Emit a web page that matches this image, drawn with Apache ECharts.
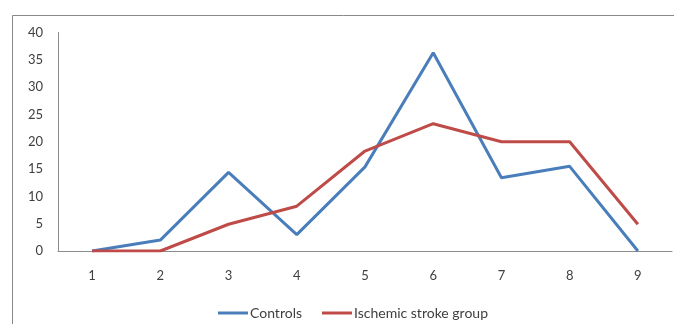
<!DOCTYPE html>
<html><head><meta charset="utf-8">
<script src="https://cdn.jsdelivr.net/npm/echarts@6/dist/echarts.min.js"></script>
<style>html,body{margin:0;padding:0;background:#fff}#c{width:674px;height:324px}</style>
</head><body><div id="c"></div>
<script>
const categories = ['1','2','3','4','5','6','7','8','9'];
const controls = [0, 2.0, 14.4, 3.0, 15.4, 36.3, 13.4, 15.5, 0];
const ischemic = [0, 0, 4.9, 8.2, 18.3, 23.3, 20.0, 20.0, 4.9];
const seriesNames = ['Controls', 'Ischemic stroke group'];

const chart = echarts.init(document.getElementById('c'));
const font = 'Lato, "Open Sans", sans-serif';
chart.setOption({
  animation: false,
  textStyle: {fontFamily: font},
  graphic: [{type: 'rect', shape: {x: 12.5, y: 15.5, width: 800, height: 500}, style: {fill: 'none', stroke: '#888', lineWidth: 1}, silent: true}],
  grid: {left: 58, right: 2, top: 32.5, bottom: 73},
  legend: {
    left: 213, top: 301, icon: 'rect', itemWidth: 30, itemHeight: 3, itemGap: 20,
    textStyle: {fontFamily: font, fontSize: 14, color: '#404040', padding: [0,0,0,-3]},
    data: seriesNames
  },
  xAxis: {
    type: 'category', data: categories, boundaryGap: true,
    axisLine: {lineStyle: {color: '#8c8c8c'}}, axisTick: {show: false},
    axisLabel: {color: '#404040', fontSize: 13, margin: 18, fontFamily: font}
  },
  yAxis: {
    type: 'value', min: 0, max: 40, interval: 5,
    axisLine: {show: true, lineStyle: {color: '#8c8c8c'}}, axisTick: {show: false},
    splitLine: {show: false},
    axisLabel: {color: '#404040', fontSize: 13, margin: 15, fontFamily: font}
  },
  series: [
    {name: seriesNames[0], type: 'line', data: controls, symbol: 'none', lineStyle: {width: 3, color: '#4a7ebb'}, itemStyle: {color: '#4a7ebb'}},
    {name: seriesNames[1], type: 'line', data: ischemic, symbol: 'none', lineStyle: {width: 3, color: '#be4b48'}, itemStyle: {color: '#be4b48'}}
  ]
});
</script></body></html>
